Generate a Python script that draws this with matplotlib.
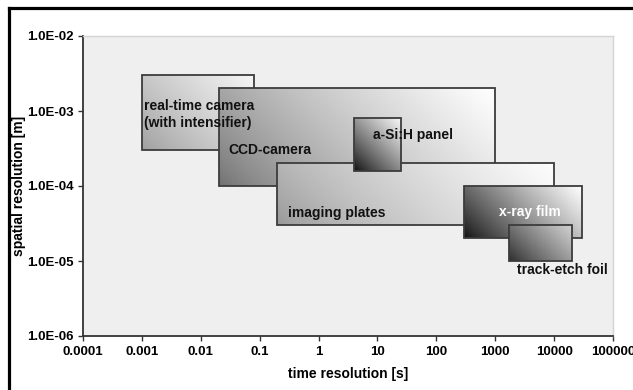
import numpy as np
import matplotlib
matplotlib.use("Agg")
import matplotlib.pyplot as plt
from matplotlib.lines import Line2D
from matplotlib.patches import Rectangle

plt.rcParams['font.family'] = ['Liberation Sans', 'DejaVu Sans']

# Detector ranges: time resolution [s] (x) and spatial resolution [m] (y)
names = ["real-time camera", "CCD-camera", "imaging plates", "a-Si:H panel",
         "x-ray film", "track-etch foil"]
t_min = [0.001, 0.02, 0.2, 4.0, 300.0, 1700.0]
t_max = [0.08, 1000.0, 10000.0, 25.0, 30000.0, 20000.0]
s_min = [3e-4, 1e-4, 3e-5, 1.6e-4, 2e-5, 1e-5]
s_max = [3e-3, 2e-3, 2e-4, 8e-4, 1e-4, 3e-5]

labels = ["real-time camera\n(with intensifier)", "CCD-camera", "imaging plates",
          "a-Si:H panel", "x-ray film", "track-etch foil"]
label_x = [0.0011, 0.029, 0.30, 8.5, 1150.0, 2350.0]
label_y = [9.0e-4, 3.0e-4, 4.4e-5, 4.8e-4, 4.5e-5, 7.6e-6]
label_color = ["#111111", "#111111", "#111111", "#111111", "white", "#111111"]

# gradient colours (bottom-left dark -> top-right light)
dark = [0.62, 0.42, 0.58, 0.05, 0.06, 0.16]
light = [0.96, 1.0, 0.99, 0.97, 1.0, 0.82]
gamma = [0.85, 0.7, 0.7, 0.85, 0.85, 0.85]

x_ticks = [0.0001, 0.001, 0.01, 0.1, 1, 10, 100, 1000, 10000, 100000]
x_tick_labels = ["0.0001", "0.001", "0.01", "0.1", "1", "10", "100", "1000", "10000", "100000"]
y_ticks = [1e-6, 1e-5, 1e-4, 1e-3, 1e-2]
y_tick_labels = ["1.0E-06", "1.0E-05", "1.0E-04", "1.0E-03", "1.0E-02"]

W, H = 633, 390
fig = plt.figure(figsize=(W / 100, H / 100), dpi=100)
fig.patch.set_facecolor("white")
ax = fig.add_axes([83 / W, 1 - 336 / H, 530 / W, 300 / H])
ax.set_facecolor("#efefef")
ax.set_xscale("log")
ax.set_yscale("log")
ax.set_xlim(1e-4, 1e5)
ax.set_ylim(1e-6, 1e-2)

n = 120
for i in range(len(names)):
    xe = np.logspace(np.log10(t_min[i]), np.log10(t_max[i]), n + 1)
    ye = np.logspace(np.log10(s_min[i]), np.log10(s_max[i]), n + 1)
    u = (np.arange(n) + 0.5) / n
    U, V = np.meshgrid(u, u)
    wpx = (np.log10(t_max[i]) - np.log10(t_min[i])) * 58.9
    hpx = (np.log10(s_max[i]) - np.log10(s_min[i])) * 75.0
    t = (U * wpx + V * hpx) / (wpx + hpx)
    t = np.clip(t, 0, 1) ** gamma[i]
    g = dark[i] + (light[i] - dark[i]) * t
    ax.pcolormesh(xe, ye, g, cmap="gray", vmin=0, vmax=1, shading="flat",
                  zorder=2 + i * 2, antialiased=False, linewidth=0)
    ax.add_patch(Rectangle((t_min[i], s_min[i]), t_max[i] - t_min[i], s_max[i] - s_min[i],
                           fill=False, edgecolor="#3c3c3c", linewidth=1.3, zorder=3 + i * 2))

for i in range(len(labels)):
    ax.text(label_x[i], label_y[i], labels[i], color=label_color[i], fontsize=10,
            fontweight="bold", ha="left", va="center", zorder=30, linespacing=1.3)

ax.set_xticks(x_ticks)
ax.set_xticklabels(x_tick_labels, fontsize=9.5, fontweight="bold")
ax.set_yticks(y_ticks)
ax.set_yticklabels(y_tick_labels, fontsize=9.5, fontweight="bold")
ax.minorticks_off()
ax.tick_params(axis="both", direction="out", length=3.5, width=1.0, color="#333333", pad=3)
ax.tick_params(axis="x", pad=4)

for side in ["top", "right"]:
    ax.spines[side].set_color("#d4d4d4")
    ax.spines[side].set_linewidth(1.0)
for side in ["left", "bottom"]:
    ax.spines[side].set_color("#333333")
    ax.spines[side].set_linewidth(1.3)

ax.set_xlabel("time resolution [s]", fontsize=10, fontweight="bold", labelpad=6)
ax.set_ylabel("spatial resolution [m]", fontsize=10, fontweight="bold", labelpad=1)

# outer frame (top and left only)
fig.add_artist(Line2D([9 / W, 1.0], [1 - 8 / H, 1 - 8 / H], color="black", linewidth=2.3,
                      transform=fig.transFigure))
fig.add_artist(Line2D([9 / W, 9 / W], [0.0, 1 - 8 / H], color="black", linewidth=2.3,
                      transform=fig.transFigure))

fig.savefig("out.png", dpi=100)
